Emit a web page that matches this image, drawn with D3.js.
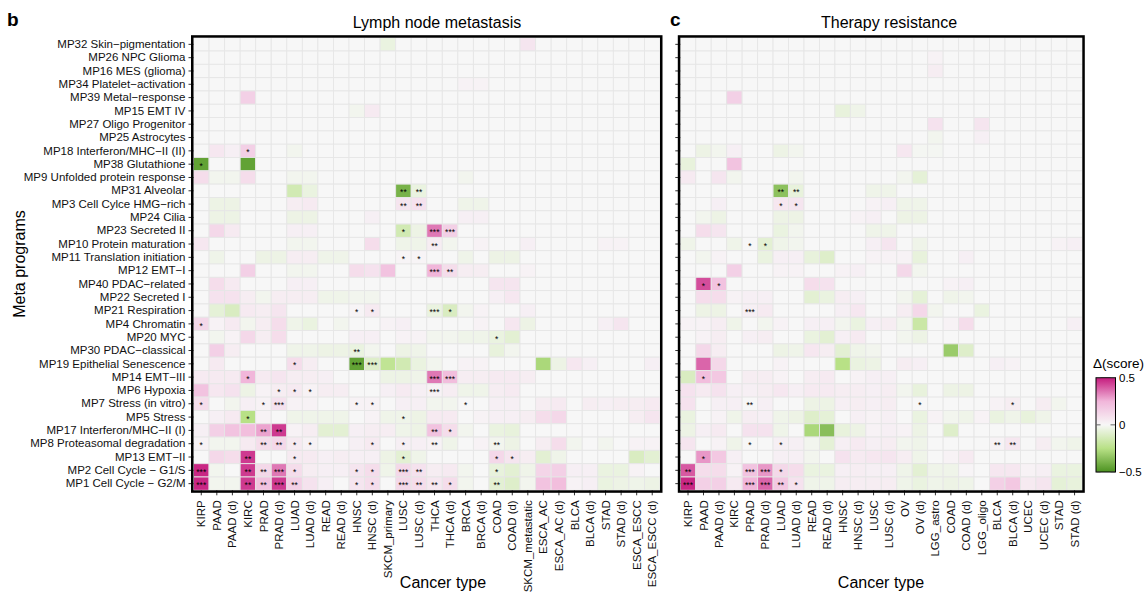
<!DOCTYPE html>
<html>
<head>
<meta charset="utf-8">
<script src="https://cdn.jsdelivr.net/npm/d3@7"></script>
<style>
  body { margin: 0; background: #fff; }
  text { font-family: "Liberation Sans", Arial, Helvetica, sans-serif; }
</style>
</head>
<body>
<div id="chart"></div>
<script>
// Meta programs (rows, top to bottom)
var programs = [
  "MP32 Skin\u2212pigmentation", "MP26 NPC Glioma", "MP16 MES (glioma)", "MP34 Platelet\u2212activation",
  "MP39 Metal\u2212response", "MP15 EMT IV", "MP27 Oligo Progenitor", "MP25 Astrocytes",
  "MP18 Interferon/MHC\u2212II (II)", "MP38 Glutathione", "MP9 Unfolded protein response", "MP31 Alveolar",
  "MP3 Cell Cylce HMG\u2212rich", "MP24 Cilia", "MP23 Secreted II", "MP10 Protein maturation",
  "MP11 Translation initiation", "MP12 EMT\u2212I", "MP40 PDAC\u2212related", "MP22 Secreted I",
  "MP21 Respiration", "MP4 Chromatin", "MP20 MYC", "MP30 PDAC\u2212classical",
  "MP19 Epithelial Senescence", "MP14 EMT\u2212III", "MP6 Hypoxia", "MP7 Stress (in vitro)",
  "MP5 Stress", "MP17 Interferon/MHC\u2212II (I)", "MP8 Proteasomal degradation", "MP13 EMT\u2212II",
  "MP2 Cell Cycle \u2212 G1/S", "MP1 Cell Cycle \u2212 G2/M"
];

var lnmTypes = ["KIRP", "PAAD", "PAAD (d)", "KIRC", "PRAD", "PRAD (d)", "LUAD", "LUAD (d)", "READ", "READ (d)",
  "HNSC", "HNSC (d)", "SKCM_primary", "LUSC", "LUSC (d)", "THCA", "THCA (d)", "BRCA", "BRCA (d)", "COAD",
  "COAD (d)", "SKCM_metastatic", "ESCA_AC", "ESCA_AC (d)", "BLCA", "BLCA (d)", "STAD", "STAD (d)",
  "ESCA_ESCC", "ESCA_ESCC (d)"];

var trTypes = ["KIRP", "PAAD", "PAAD (d)", "KIRC", "PRAD", "PRAD (d)", "LUAD", "LUAD (d)", "READ", "READ (d)",
  "HNSC", "HNSC (d)", "LUSC", "LUSC (d)", "OV", "OV (d)", "LGG_astro", "COAD", "COAD (d)", "LGG_oligo",
  "BLCA", "BLCA (d)", "UCEC", "UCEC (d)", "STAD", "STAD (d)"];

// delta score, in hundredths (one row per meta program)
var lnmValues = [
  [0,0,0,0,0,0,0,0,0,0, 0,0,-5,0,0,0,0,0,0,0, 0,7,0,0,0,0,0,0,0,0],
  [0,0,0,0,0,0,0,0,0,0, 0,0,0,0,0,0,0,0,0,0, 0,0,0,0,0,0,0,0,0,0],
  [0,0,0,0,0,0,0,0,0,0, 0,0,0,0,0,0,0,0,0,0, 0,0,0,0,0,0,0,0,0,0],
  [0,0,0,0,0,0,0,0,0,0, 0,0,0,0,0,0,0,2,2,0, 0,0,0,0,0,0,0,0,0,0],
  [0,0,0,15,0,0,0,0,0,0, 0,0,0,0,0,0,0,0,0,0, 0,0,0,0,0,0,0,0,0,0],
  [0,0,0,0,0,0,0,0,0,0, -2,5,0,0,0,0,0,0,0,0, 0,0,0,0,0,0,0,0,0,0],
  [0,0,0,0,0,0,0,0,0,0, 0,0,0,0,0,0,0,0,0,0, 0,0,0,0,0,0,0,0,0,0],
  [0,0,0,0,0,0,0,0,0,0, 0,0,0,0,0,0,0,0,0,0, 0,0,0,0,0,0,0,0,0,0],
  [0,6,3,15,0,0,-2,0,0,0, 0,0,0,0,0,0,0,0,0,0, 0,0,0,0,0,0,0,0,0,0],
  [-45,0,0,-45,0,0,0,0,0,0, 0,0,0,0,0,0,0,0,0,0, 0,0,0,0,0,0,0,0,0,0],
  [10,-2,-2,10,0,0,-2,-2,0,0, 0,0,0,0,0,0,0,-2,0,0, 0,0,0,0,0,0,0,0,0,0],
  [0,0,0,0,0,0,-15,-5,0,0, 0,0,0,-40,-5,0,0,0,0,0, 0,0,0,0,0,0,0,0,0,0],
  [0,-4,-4,0,0,0,4,5,0,0, 0,0,0,7,8,0,0,-3,-3,0, 0,0,0,0,0,0,0,0,0,0],
  [0,-4,-4,0,0,0,-4,-4,0,0, 0,3,0,0,0,0,0,3,3,0, 0,0,0,0,0,0,0,0,0,0],
  [0,12,5,0,0,0,3,3,0,0, 0,0,0,-15,-4,35,15,0,0,0, 0,0,0,0,0,0,0,0,0,0],
  [6,0,0,0,0,0,-2,-2,0,0, 0,10,0,-3,-3,4,-2,0,2,0, 0,3,0,0,0,0,2,2,0,0],
  [0,-3,0,0,-4,-4,4,4,-3,-3, 0,0,0,1,1,0,0,-3,0,-4, -4,0,0,0,0,0,0,0,0,0],
  [0,0,0,15,0,0,-2,-2,0,0, 10,8,20,0,0,25,10,4,4,0, 0,2,0,0,0,0,0,0,0,0],
  [0,10,5,0,0,0,3,3,0,0, 0,0,0,0,0,0,0,0,0,7, 7,0,0,0,0,0,0,0,0,0],
  [0,8,8,4,-2,4,4,4,-3,-3, -2,-2,0,0,0,0,0,0,0,3, 6,0,0,0,0,0,0,0,0,0],
  [0,-7,-12,5,4,7,0,0,0,0, 1,5,0,0,0,-5,-12,-2,2,0, 0,3,0,0,0,0,0,0,0,0],
  [12,2,5,-2,4,10,-3,-5,0,-2, 0,0,2,3,0,0,0,0,2,0, 6,-4,0,0,0,0,3,7,0,0],
  [0,-2,2,12,4,10,0,0,0,0, 3,3,0,2,2,-2,-2,-3,-3,-5, -8,0,0,0,0,0,0,0,0,0],
  [0,15,4,0,0,0,-3,-3,-4,-4, -5,-2,0,-4,-3,0,0,0,0,-6, -2,0,0,0,0,0,0,0,0,0],
  [0,5,0,0,0,0,10,4,0,0, -45,-10,-22,-15,-5,-2,0,2,2,0, 0,0,-28,-4,6,3,0,0,0,3],
  [5,5,5,25,5,7,4,4,3,0, 0,0,-4,-4,-3,35,22,4,4,5, 5,4,0,0,0,0,0,0,0,0],
  [20,6,8,-4,2,4,5,2,4,4, 0,0,3,5,3,2,4,-3,-3,4, 5,0,0,0,0,0,0,0,0,0],
  [10,0,-2,3,2,8,2,2,0,0, 2,2,0,3,3,-2,-2,0,0,3, 3,0,4,5,0,4,3,4,4,5],
  [0,3,5,-25,2,0,-3,-3,-3,-3, 0,2,-3,-3,-4,5,5,0,2,3, 3,4,10,12,0,0,0,0,4,7],
  [3,15,20,22,28,45,2,4,-8,-8, 3,4,4,-3,-4,20,10,-2,0,-5, -6,0,0,0,0,0,0,0,0,0],
  [2,-2,-2,5,10,12,5,2,0,0, 3,5,0,3,3,2,-3,0,2,-2, -4,0,4,10,-2,0,-2,0,2,2],
  [0,12,10,45,0,0,5,5,3,4, 3,3,-4,-8,-3,0,0,0,0,12, 7,4,-8,-3,0,0,0,0,-12,-8],
  [48,-2,0,45,12,35,10,4,3,3, 7,10,-3,12,8,4,5,-2,0,-6, -8,-3,13,15,3,3,-5,-5,2,0],
  [48,-2,-2,45,20,45,15,8,3,0, 7,10,0,12,10,6,10,-2,0,-8, -10,-2,20,22,2,3,-5,-4,-3,-4]
];

var trValues = [
  [0,0,0,0,0,0,0,0,0,0, 0,0,0,0,0,0,0,0,0,0, 0,0,0,0,0,0],
  [0,0,0,0,0,0,0,0,0,0, 0,0,0,0,0,0,2,0,0,0, 0,0,0,0,0,0],
  [0,0,0,0,0,0,0,0,0,0, 0,0,0,0,0,0,4,0,0,0, 0,0,0,0,0,0],
  [0,0,0,0,0,0,0,0,0,0, 0,0,0,0,0,0,0,0,0,0, 0,0,0,0,0,0],
  [0,0,0,15,0,0,0,0,0,0, 0,0,0,0,0,0,0,0,0,0, 0,0,0,0,0,0],
  [0,0,0,0,0,0,0,0,0,0, -6,-3,0,0,0,0,0,0,0,0, 0,0,0,0,0,0],
  [0,0,0,0,0,0,0,0,0,0, 0,0,0,0,0,0,8,0,0,7, 0,0,0,0,0,0],
  [0,0,0,0,0,0,0,0,0,0, 0,0,0,0,0,0,-2,0,0,3, 0,0,0,0,0,0],
  [0,-4,-2,3,0,0,-4,-2,0,0, 0,0,0,0,6,-1,-1,0,0,0, 0,0,0,0,0,0],
  [-6,0,0,20,0,0,0,0,0,0, 0,0,0,0,0,0,0,0,0,0, 0,0,0,0,0,0],
  [5,0,7,-2,0,0,0,-2,0,0, 0,0,0,0,-2,-7,0,0,0,0, 0,0,0,0,0,0],
  [0,0,0,0,0,0,-35,-6,0,0, 0,0,-3,-3,0,0,0,0,0,0, 0,0,0,0,0,0],
  [0,0,3,0,0,0,6,7,0,0, 0,0,2,3,-3,-3,0,0,0,0, 0,0,0,0,0,0],
  [0,-2,-4,0,0,0,-4,-4,0,0, 0,2,3,0,-4,-4,0,0,0,0, 0,0,0,0,0,0],
  [0,10,7,0,0,0,-5,-2,0,0, 0,0,-3,-3,0,0,0,0,0,0, 0,0,0,0,0,0],
  [-3,0,0,-3,0,-8,-3,-2,0,0, 0,0,3,7,0,-3,0,0,0,0, 0,0,0,0,2,3],
  [0,-2,2,0,0,-5,3,3,-6,-10, 0,0,2,2,2,-6,0,0,3,0, 0,0,0,0,0,0],
  [0,0,0,15,0,0,2,2,0,0, 2,3,0,0,12,-2,0,0,0,0, 0,0,0,0,0,0],
  [0,42,20,0,0,0,0,0,10,8, 0,0,0,0,0,0,0,2,3,0, 0,0,0,0,0,0],
  [0,10,10,2,3,3,0,0,-8,-5, 4,3,0,0,-2,-7,0,-3,-2,0, 0,0,0,0,0,0],
  [0,-4,-4,0,3,5,0,0,0,0, 3,6,0,0,4,12,-2,0,0,-5, 0,0,0,0,0,0],
  [2,2,4,-3,0,-2,2,0,3,3, -2,-5,3,4,-2,-18,0,2,10,0, 0,0,0,0,0,3],
  [0,2,4,0,3,4,0,0,-5,-8, 3,5,0,0,-2,-4,0,0,0,0, 0,0,0,0,0,0],
  [0,12,4,0,0,0,-4,-3,6,4, -8,-3,-2,0,0,0,0,-32,-10,0, 0,0,0,0,0,0],
  [0,38,12,0,0,0,2,0,0,0, -25,-5,-4,0,4,3,0,0,0,0, 3,2,0,0,0,0],
  [-12,22,18,0,4,4,2,0,4,5, 0,2,3,3,0,0,0,0,0,0, 0,0,0,0,0,0],
  [8,5,8,3,3,4,6,3,5,5, 4,4,3,4,-2,-6,0,-4,-4,0, 0,0,0,0,0,0],
  [8,0,3,3,0,3,0,0,-4,-4, 3,4,3,4,0,0,0,0,0,0, 2,4,0,4,-2,0],
  [-5,0,2,-3,4,3,-3,-4,-10,-7, 0,3,2,3,0,-5,2,-2,-3,2, -5,-3,-6,-3,0,0],
  [-4,3,5,0,8,8,-3,0,-28,-36, -6,-4,2,3,2,-4,0,-10,0,0, 0,0,0,0,0,0],
  [7,0,2,-3,0,0,3,3,-2,-7, 3,5,3,4,-2,-3,0,0,0,0, 2,6,0,4,-2,-3],
  [0,30,18,3,0,0,3,3,-2,0, 8,5,6,7,4,-3,0,2,5,0, 0,0,0,0,0,0],
  [40,10,10,2,20,30,12,10,-5,-5, 3,4,3,3,-3,-8,-3,-3,1,0, 6,6,2,3,-5,-5],
  [48,15,15,5,25,38,18,8,-3,-3, 4,4,4,4,-3,-5,-3,-4,-3,0, 15,18,5,7,-7,-6]
];

// significance marks: [row (1-based), column (1-based), label]
var lnmStars = [
  [9,4,"*"], [10,1,"*"],
  [12,14,"**"], [12,15,"**"], [13,14,"**"], [13,15,"**"],
  [15,14,"*"], [15,16,"***"], [15,17,"***"], [16,16,"**"],
  [17,14,"*"], [17,15,"*"], [18,16,"***"], [18,17,"**"],
  [21,11,"*"], [21,12,"*"], [21,16,"***"], [21,17,"*"],
  [22,1,"*"], [23,20,"*"], [24,11,"**"],
  [25,7,"*"], [25,11,"***"], [25,12,"***"],
  [26,4,"*"], [26,16,"***"], [26,17,"***"],
  [27,6,"*"], [27,7,"*"], [27,8,"*"], [27,16,"***"],
  [28,1,"*"], [28,5,"*"], [28,6,"***"], [28,11,"*"], [28,12,"*"], [28,18,"*"],
  [29,4,"*"], [29,14,"*"],
  [30,5,"**"], [30,6,"**"], [30,16,"**"], [30,17,"*"],
  [31,1,"*"], [31,5,"**"], [31,6,"**"], [31,7,"*"], [31,8,"*"], [31,12,"*"], [31,14,"*"], [31,16,"**"], [31,20,"**"],
  [32,4,"**"], [32,7,"*"], [32,14,"*"], [32,20,"*"], [32,21,"*"],
  [33,1,"***"], [33,4,"**"], [33,5,"**"], [33,6,"***"], [33,7,"*"], [33,11,"*"], [33,12,"*"], [33,14,"***"], [33,15,"**"], [33,20,"*"],
  [34,1,"***"], [34,4,"**"], [34,5,"**"], [34,6,"***"], [34,7,"**"], [34,11,"*"], [34,12,"*"], [34,14,"***"], [34,15,"**"], [34,16,"**"], [34,17,"*"], [34,20,"**"]
];

var trStars = [
  [12,7,"**"], [12,8,"**"], [13,7,"*"], [13,8,"*"],
  [16,5,"*"], [16,6,"*"], [19,2,"*"], [19,3,"*"],
  [21,5,"***"], [26,2,"*"],
  [28,5,"**"], [28,16,"*"], [28,22,"*"],
  [31,5,"*"], [31,7,"*"], [31,21,"**"], [31,22,"**"],
  [32,2,"*"],
  [33,1,"**"], [33,5,"***"], [33,6,"***"], [33,7,"*"],
  [34,1,"***"], [34,5,"***"], [34,6,"***"], [34,7,"**"], [34,8,"*"]
];

var legendTicks = [0.5, 0, -0.5];

var svgWidth = 1148;
var svgHeight = 593;
var panelTop = 37.7;
var panelBottom = 490.3;

var svg = d3.select("#chart")
  .append("svg")
  .attr("width", svgWidth)
  .attr("height", svgHeight)
  .style("background", "#fff");

var color = d3.scaleLinear()
  .domain([-0.5, -0.25, 0, 0.25, 0.5])
  .range(["#4d9221", "#b8e186", "#f7f7f7", "#f1b6da", "#c51b7d"])
  .clamp(true);

var y = d3.scaleBand()
  .domain(programs)
  .range([panelTop, panelBottom]);

function drawPanel(p) {
  var x = d3.scaleBand().domain(p.types).range([p.x0, p.x1]);
  var g = svg.append("g");

  var cells = [];
  p.values.forEach(function(row, i) {
    row.forEach(function(v, j) {
      cells.push({program: programs[i], type: p.types[j], value: v / 100});
    });
  });

  g.append("g")
    .selectAll("rect")
    .data(cells)
    .enter()
    .append("rect")
    .attr("x", function(d) { return x(d.type); })
    .attr("y", function(d) { return y(d.program); })
    .attr("width", x.bandwidth())
    .attr("height", y.bandwidth())
    .attr("fill", function(d) { return color(d.value); })
    .attr("stroke", "#e6e6e6")
    .attr("stroke-width", 0.9);

  var stars = p.stars.map(function(s) {
    return {program: programs[s[0] - 1], type: p.types[s[1] - 1], label: s[2]};
  });

  g.append("g")
    .selectAll("text")
    .data(stars)
    .enter()
    .append("text")
    .attr("x", function(d) { return x(d.type) + x.bandwidth() / 2; })
    .attr("y", function(d) { return y(d.program) + y.bandwidth() / 2 + 4.6; })
    .attr("text-anchor", "middle")
    .attr("font-size", "8.5px")
    .attr("fill", "#000")
    .text(function(d) { return d.label; });

  // left axis
  var leftAxis = d3.axisLeft(y).tickSize(5).tickPadding(3);
  if (!p.showY) leftAxis.tickFormat("");
  var ga = g.append("g")
    .attr("transform", "translate(" + p.x0 + ",0)")
    .call(leftAxis);
  ga.select(".domain").remove();
  ga.selectAll("line").attr("stroke", "#333");
  ga.selectAll("text").attr("font-size", "11.5px").attr("fill", "#111")
    .style("font-family", "'Liberation Sans', Arial, sans-serif");

  // bottom axis
  var bottomAxis = d3.axisBottom(x).tickSize(5).tickPadding(3);
  var gb = g.append("g")
    .attr("transform", "translate(0," + panelBottom + ")")
    .call(bottomAxis);
  gb.select(".domain").remove();
  gb.selectAll("line").attr("stroke", "#333");
  gb.selectAll("text")
    .attr("transform", "rotate(-90)")
    .attr("text-anchor", "end")
    .attr("x", -10)
    .attr("y", 0)
    .attr("dy", "0.35em")
    .attr("font-size", "11.5px")
    .attr("fill", "#111")
    .style("font-family", "'Liberation Sans', Arial, sans-serif");

  // frame
  g.append("rect")
    .attr("x", p.x0 - 1.25)
    .attr("y", panelTop - 1.25)
    .attr("width", p.x1 - p.x0 + 2.5)
    .attr("height", panelBottom - panelTop + 2.5)
    .attr("fill", "none")
    .attr("stroke", "#000")
    .attr("stroke-width", 2.5);

  g.append("text")
    .attr("x", p.titleX)
    .attr("y", 28)
    .attr("text-anchor", "middle")
    .attr("font-size", "16px")
    .text(p.title);

  g.append("text")
    .attr("x", p.xTitleX)
    .attr("y", 588)
    .attr("text-anchor", "middle")
    .attr("font-size", "16px")
    .text("Cancer type");

  g.append("text")
    .attr("x", p.letterX)
    .attr("y", 26)
    .attr("font-size", "19px")
    .attr("font-weight", "bold")
    .text(p.letter);
}

drawPanel({
  types: lnmTypes, values: lnmValues, stars: lnmStars,
  x0: 193.5, x1: 660, showY: true,
  title: "Lymph node metastasis", titleX: 437, xTitleX: 443,
  letter: "b", letterX: 7
});

drawPanel({
  types: trTypes, values: trValues, stars: trStars,
  x0: 680.3, x1: 1082.3, showY: false,
  title: "Therapy resistance", titleX: 889, xTitleX: 881,
  letter: "c", letterX: 670
});

svg.append("text")
  .attr("transform", "translate(25," + 264 + ") rotate(-90)")
  .attr("text-anchor", "middle")
  .attr("font-size", "16px")
  .text("Meta programs");

// legend
var legY = d3.scaleLinear().domain([0.5, -0.5]).range([377.7, 472]);
var defs = svg.append("defs");
var grad = defs.append("linearGradient")
  .attr("id", "legGrad")
  .attr("x1", 0).attr("y1", 0).attr("x2", 0).attr("y2", 1);
d3.range(0, 1.0001, 0.05).forEach(function(t) {
  grad.append("stop")
    .attr("offset", t)
    .attr("stop-color", color(0.5 - t));
});

var leg = svg.append("g");
leg.append("text")
  .attr("x", 1093)
  .attr("y", 368)
  .attr("font-size", "13.5px")
  .text("\u0394(score)");

leg.append("rect")
  .attr("x", 1096)
  .attr("y", legY(0.5))
  .attr("width", 19.5)
  .attr("height", legY(-0.5) - legY(0.5))
  .attr("fill", "url(#legGrad)")
  .attr("stroke", "#000")
  .attr("stroke-width", 1);

leg.selectAll("g.tk")
  .data(legendTicks)
  .enter()
  .append("g")
  .attr("class", "tk")
  .each(function(d) {
    var gg = d3.select(this);
    gg.append("line").attr("x1", 1096.5).attr("x2", 1100.5)
      .attr("y1", legY(d)).attr("y2", legY(d)).attr("stroke", "#444").attr("stroke-width", 0.8);
    gg.append("line").attr("x1", 1110.5).attr("x2", 1115)
      .attr("y1", legY(d)).attr("y2", legY(d)).attr("stroke", "#444").attr("stroke-width", 0.8);
  });

leg.selectAll("text.lab")
  .data(legendTicks)
  .enter()
  .append("text")
  .attr("class", "lab")
  .attr("x", 1119)
  .attr("y", function(d) { return legY(d) + 4; })
  .attr("font-size", "11.5px")
  .text(function(d) { return d === 0 ? "0" : (d < 0 ? "\u22120.5" : "0.5"); });
</script>
</body>
</html>
